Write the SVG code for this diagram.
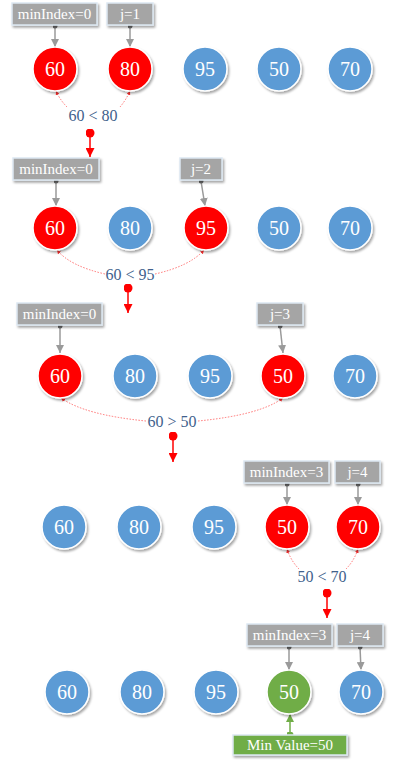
<svg xmlns="http://www.w3.org/2000/svg" width="410" height="760" viewBox="0 0 410 760">
<defs>
<filter id="sh" x="-30%" y="-30%" width="160%" height="160%">
<feDropShadow dx="1.5" dy="2" stdDeviation="1.2" flood-color="#000" flood-opacity="0.35"/>
</filter>
<marker id="ga" viewBox="0 0 10 10" refX="10" refY="5" markerWidth="8" markerHeight="8" markerUnits="userSpaceOnUse" orient="auto">
<path d="M0,0 L10,5 L0,10 Z" fill="#9a9a9a"/>
</marker>
<marker id="gd" viewBox="0 0 10 10" refX="5" refY="5" markerWidth="5" markerHeight="5" markerUnits="userSpaceOnUse">
<circle cx="5" cy="5" r="5" fill="#6e6e6e"/>
</marker>
<marker id="gra" viewBox="0 0 10 10" refX="10" refY="5" markerWidth="8" markerHeight="8" markerUnits="userSpaceOnUse" orient="auto">
<path d="M0,0 L10,5 L0,10 Z" fill="#70ad47"/>
</marker>
<marker id="grd" viewBox="0 0 10 10" refX="5" refY="5" markerWidth="7" markerHeight="7" markerUnits="userSpaceOnUse">
<circle cx="5" cy="5" r="5" fill="#70ad47"/>
</marker>
<marker id="ra" viewBox="0 0 10 10" refX="10" refY="5" markerWidth="9" markerHeight="9" markerUnits="userSpaceOnUse" orient="auto">
<path d="M0,0 L10,5 L0,10 Z" fill="#ff0000"/>
</marker>
<marker id="rd" viewBox="0 0 10 10" refX="5" refY="5" markerWidth="9" markerHeight="9" markerUnits="userSpaceOnUse">
<circle cx="5" cy="5" r="5" fill="#ff0000"/>
</marker>
<marker id="sa" viewBox="0 0 10 10" refX="10" refY="5" markerWidth="4" markerHeight="4" markerUnits="userSpaceOnUse" orient="auto">
<path d="M0,0 L10,5 L0,10 Z" fill="#ff3030"/>
</marker>
<style>
.c{stroke:#ffffff;stroke-width:1.5;filter:url(#sh)}
.red{fill:#ff0000}
.blue{fill:#5b9bd5}
.green{fill:#70ad47}
.ct{font-family:"Liberation Serif","DejaVu Serif",serif;font-size:20px;fill:#ffffff;text-anchor:middle}
.box{fill:#a5a5a5;stroke:#dde8f2;stroke-width:1.5;filter:url(#sh)}
.gbox{fill:#70ad47;stroke:#dde8f2;stroke-width:1.5;filter:url(#sh)}
.bt{font-family:"Liberation Serif","DejaVu Serif",serif;font-size:15px;fill:#ffffff;text-anchor:middle}
.cmp{font-family:"Liberation Serif","DejaVu Serif",serif;font-size:16px;fill:#41618c;text-anchor:middle}
.ga{stroke:#9a9a9a;stroke-width:1.5;fill:none;marker-end:url(#ga);marker-start:url(#gd)}
.gra{stroke:#70ad47;stroke-width:1.5;fill:none;marker-end:url(#gra);marker-start:url(#grd)}
.step{stroke:#ff0000;stroke-width:1.5;fill:none;marker-end:url(#ra);marker-start:url(#rd)}
.dot{stroke:#ff5050;stroke-width:0.8;stroke-dasharray:1.5 1.5;fill:none;marker-end:url(#sa)}
</style>
</defs>

<g id="connectors">
<path class="ga" d="M55,26 L55,47"/>
<path class="ga" d="M130,26 L130,47"/>
<path class="dot" d="M67,107 Q60,100 56,91"/>
<path class="dot" d="M120,107 Q126,100 130,91"/>
<path class="step" d="M90,133 L90,157"/>
<path class="ga" d="M56,181 L56,206"/>
<path class="ga" d="M201,181 L205,206"/>
<path class="dot" d="M105,274 Q70,266 57,250"/>
<path class="dot" d="M155,274 Q190,266 204,250"/>
<path class="step" d="M128,288 L128,313"/>
<path class="ga" d="M60,326 L60,353"/>
<path class="ga" d="M280,326 L283,353"/>
<path class="dot" d="M146,421 Q85,415 61,398"/>
<path class="dot" d="M198,421 Q260,415 283,398"/>
<path class="step" d="M173,436 L173,462"/>
<path class="ga" d="M287,484 L287,505"/>
<path class="ga" d="M358,484 L358,505"/>
<path class="dot" d="M299,569 Q291,561 287,549"/>
<path class="dot" d="M346,569 Q354,561 358,549"/>
<path class="step" d="M327,593 L327,618"/>
<path class="ga" d="M289,647 L289,670"/>
<path class="ga" d="M360,647 L361,670"/>
<path class="gra" d="M290,735 L290,714"/>
</g>

<g id="cmp-labels">
<text class="cmp" x="93" y="121">60 &lt; 80</text>
<text class="cmp" x="130" y="280">60 &lt; 95</text>
<text class="cmp" x="172" y="427">60 &gt; 50</text>
<text class="cmp" x="322" y="582">50 &lt; 70</text>
</g>

<g id="r1-min"><rect class="box" x="12" y="3" width="85" height="22"/><text class="bt" x="54.5" y="19">minIndex=0</text></g>
<g id="r1-j"><rect class="box" x="107" y="3" width="46" height="22"/><text class="bt" x="130" y="19">j=1</text></g>
<g id="r1-n60"><circle class="c red" cx="55" cy="69" r="22"/><text class="ct" x="55" y="76">60</text></g>
<g id="r1-n80"><circle class="c red" cx="130" cy="69" r="22"/><text class="ct" x="130" y="76">80</text></g>
<g id="r1-n95"><circle class="c blue" cx="205" cy="69" r="22"/><text class="ct" x="205" y="76">95</text></g>
<g id="r1-n50"><circle class="c blue" cx="279" cy="69" r="22"/><text class="ct" x="279" y="76">50</text></g>
<g id="r1-n70"><circle class="c blue" cx="350" cy="69" r="22"/><text class="ct" x="350" y="76">70</text></g>

<g id="r2-min"><rect class="box" x="13" y="158" width="86" height="22"/><text class="bt" x="56" y="174">minIndex=0</text></g>
<g id="r2-j"><rect class="box" x="180" y="158" width="42" height="22"/><text class="bt" x="201" y="174">j=2</text></g>
<g id="r2-n60"><circle class="c red" cx="55" cy="228" r="22"/><text class="ct" x="55" y="235">60</text></g>
<g id="r2-n80"><circle class="c blue" cx="130" cy="228" r="22"/><text class="ct" x="130" y="235">80</text></g>
<g id="r2-n95"><circle class="c red" cx="206" cy="228" r="22"/><text class="ct" x="206" y="235">95</text></g>
<g id="r2-n50"><circle class="c blue" cx="279" cy="228" r="22"/><text class="ct" x="279" y="235">50</text></g>
<g id="r2-n70"><circle class="c blue" cx="350" cy="228" r="22"/><text class="ct" x="350" y="235">70</text></g>

<g id="r3-min"><rect class="box" x="17" y="303" width="85" height="22"/><text class="bt" x="59.5" y="319">minIndex=0</text></g>
<g id="r3-j"><rect class="box" x="257" y="303" width="46" height="22"/><text class="bt" x="280" y="319">j=3</text></g>
<g id="r3-n60"><circle class="c red" cx="60" cy="376" r="22"/><text class="ct" x="60" y="383">60</text></g>
<g id="r3-n80"><circle class="c blue" cx="135" cy="376" r="22"/><text class="ct" x="135" y="383">80</text></g>
<g id="r3-n95"><circle class="c blue" cx="210" cy="376" r="22"/><text class="ct" x="210" y="383">95</text></g>
<g id="r3-n50"><circle class="c red" cx="283" cy="376" r="22"/><text class="ct" x="283" y="383">50</text></g>
<g id="r3-n70"><circle class="c blue" cx="355" cy="376" r="22"/><text class="ct" x="355" y="383">70</text></g>

<g id="r4-min"><rect class="box" x="244" y="461" width="85" height="22"/><text class="bt" x="286.5" y="477">minIndex=3</text></g>
<g id="r4-j"><rect class="box" x="335" y="461" width="45" height="22"/><text class="bt" x="357.5" y="477">j=4</text></g>
<g id="r4-n60"><circle class="c blue" cx="64" cy="527" r="22"/><text class="ct" x="64" y="534">60</text></g>
<g id="r4-n80"><circle class="c blue" cx="139" cy="527" r="22"/><text class="ct" x="139" y="534">80</text></g>
<g id="r4-n95"><circle class="c blue" cx="214" cy="527" r="22"/><text class="ct" x="214" y="534">95</text></g>
<g id="r4-n50"><circle class="c red" cx="287" cy="527" r="22"/><text class="ct" x="287" y="534">50</text></g>
<g id="r4-n70"><circle class="c red" cx="358" cy="527" r="22"/><text class="ct" x="358" y="534">70</text></g>

<g id="r5-min"><rect class="box" x="247" y="624" width="85" height="22"/><text class="bt" x="289.5" y="640">minIndex=3</text></g>
<g id="r5-j"><rect class="box" x="337" y="624" width="46" height="22"/><text class="bt" x="360" y="640">j=4</text></g>
<g id="r5-n60"><circle class="c blue" cx="67" cy="692" r="22"/><text class="ct" x="67" y="699">60</text></g>
<g id="r5-n80"><circle class="c blue" cx="142" cy="692" r="22"/><text class="ct" x="142" y="699">80</text></g>
<g id="r5-n95"><circle class="c blue" cx="216" cy="692" r="22"/><text class="ct" x="216" y="699">95</text></g>
<g id="r5-n50"><circle class="c green" cx="289" cy="692" r="22"/><text class="ct" x="289" y="699">50</text></g>
<g id="r5-n70"><circle class="c blue" cx="361" cy="692" r="22"/><text class="ct" x="361" y="699">70</text></g>
<g id="r5-minval"><rect class="gbox" x="233" y="735" width="114" height="20"/><text class="bt" x="290" y="750">Min Value=50</text></g>
</svg>
